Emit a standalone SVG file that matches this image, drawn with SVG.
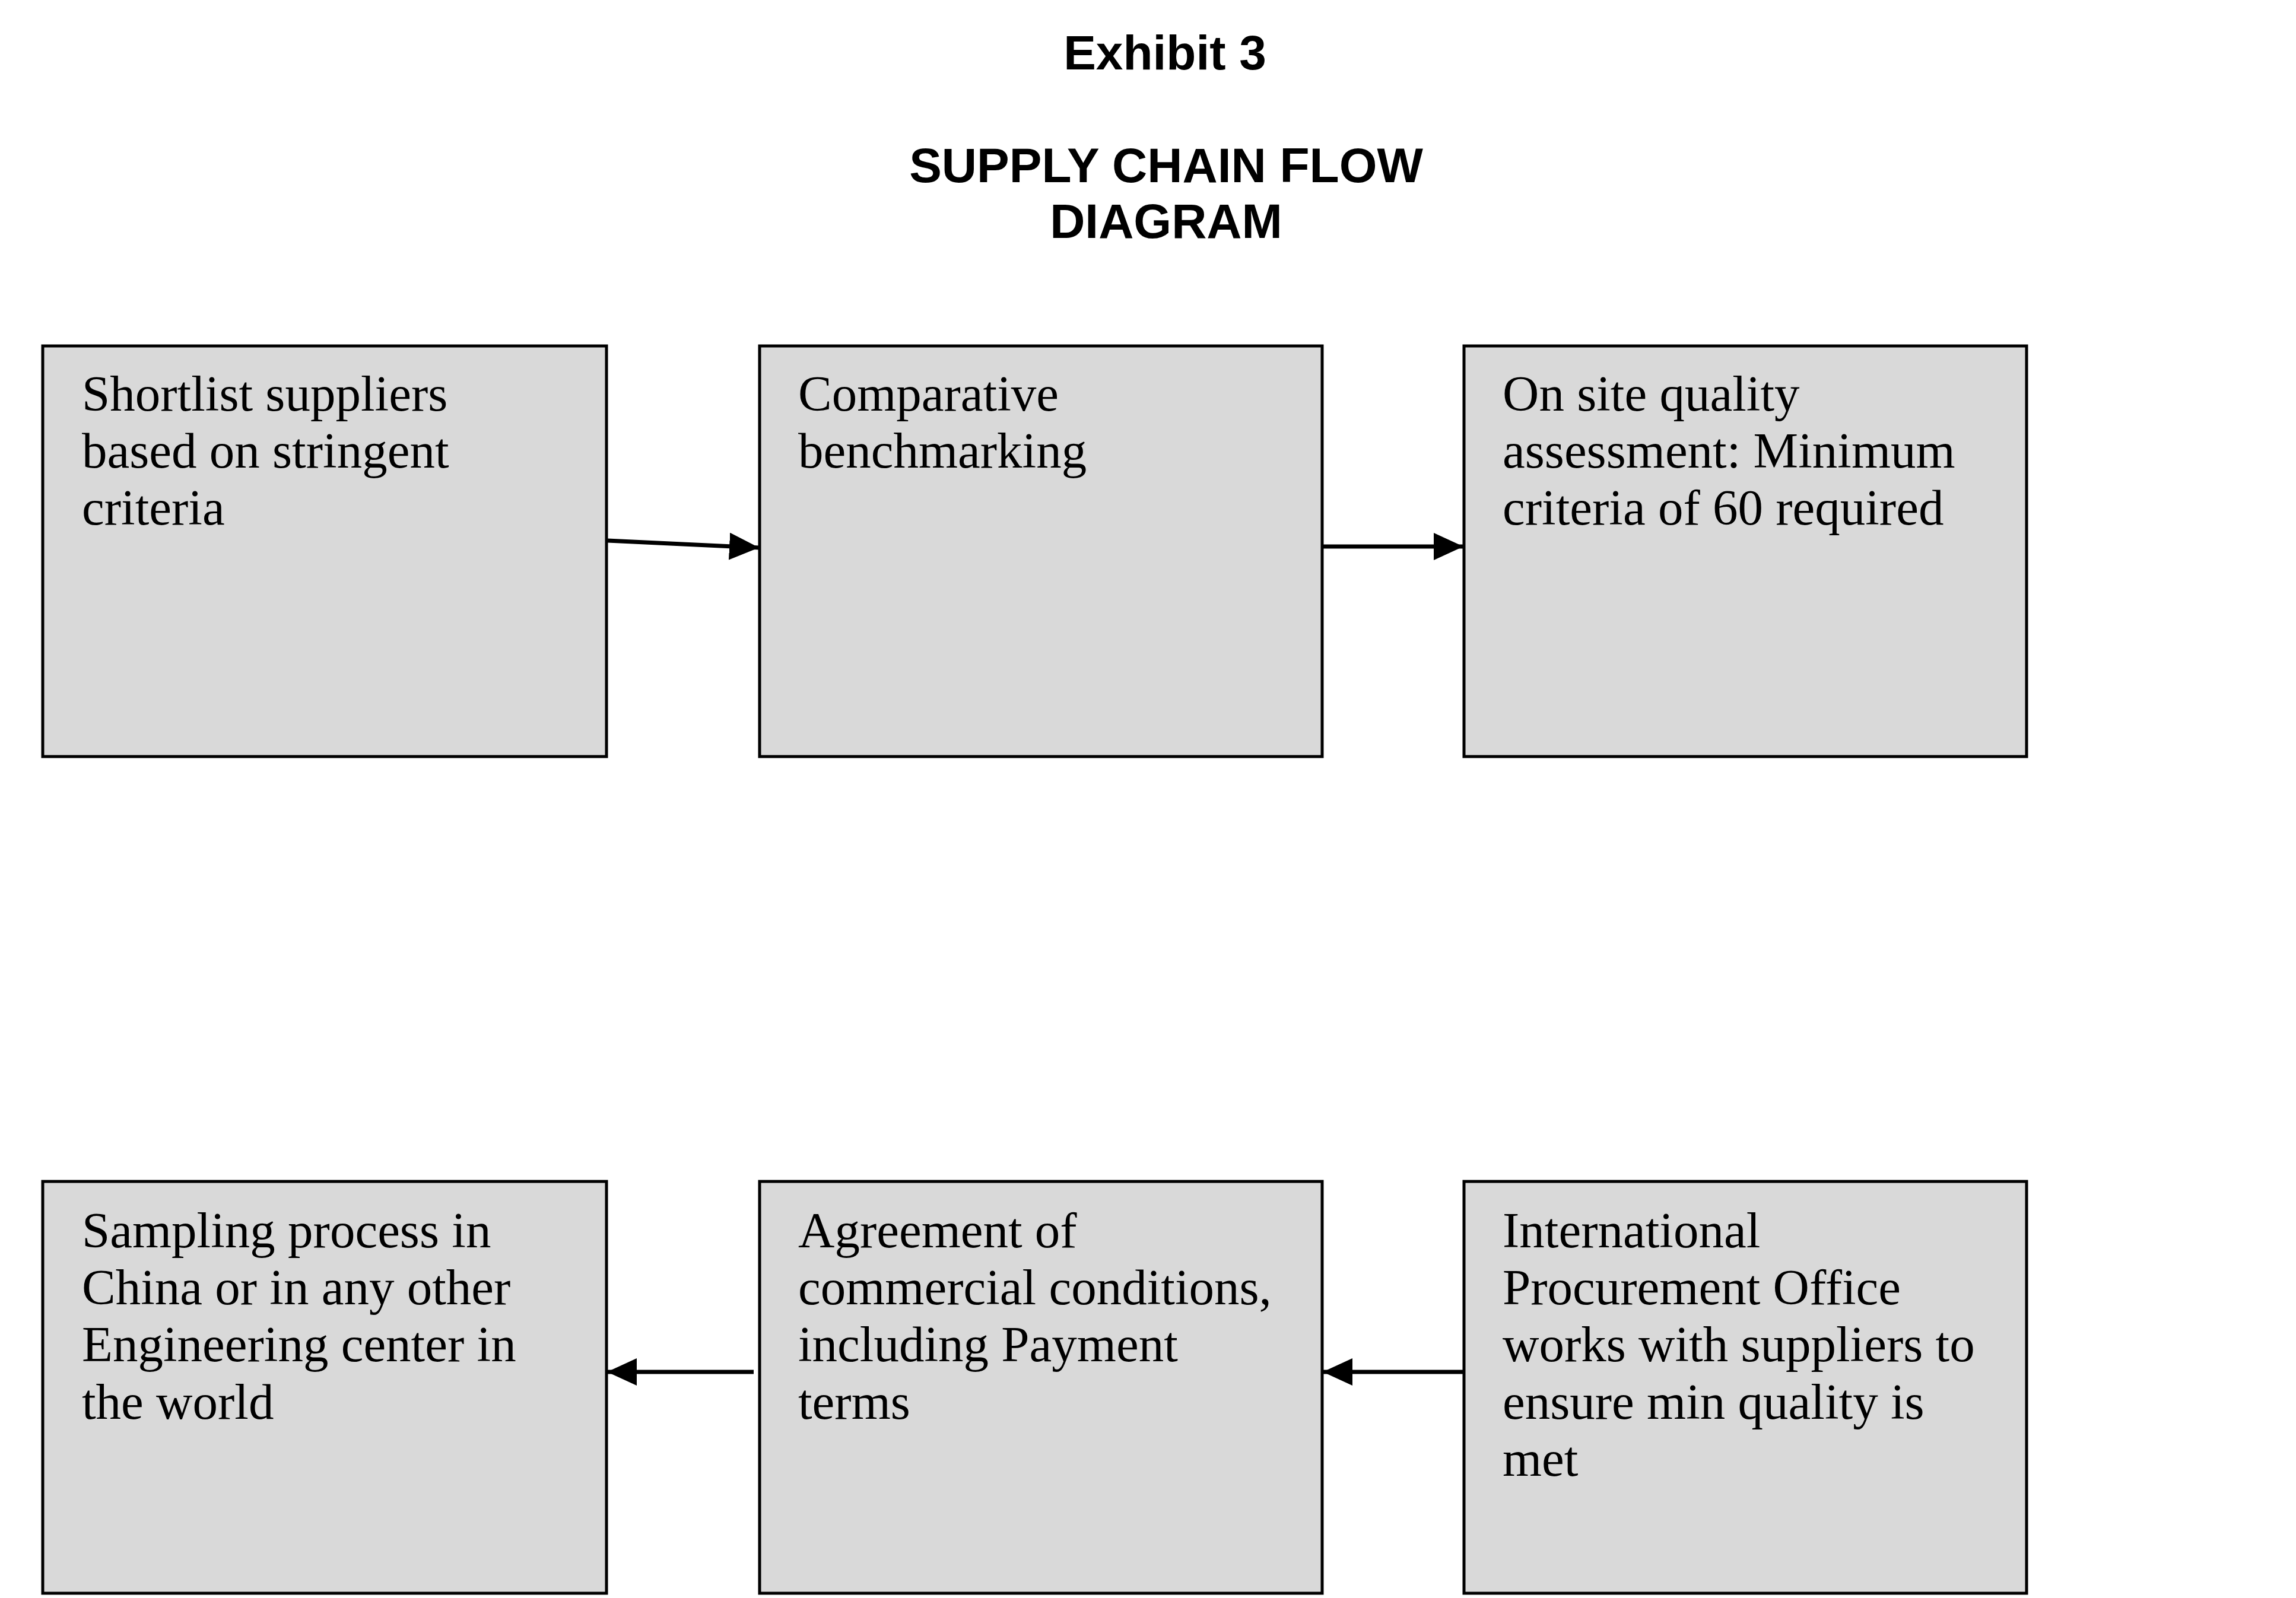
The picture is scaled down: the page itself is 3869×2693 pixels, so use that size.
<svg xmlns="http://www.w3.org/2000/svg" width="3869" height="2693" viewBox="0 0 3869 2693">
<defs>
<style>
.box{fill:#d9d9d9;stroke:#000;stroke-width:5}
.t{font-family:"Liberation Serif","Times New Roman",serif;font-size:85px;fill:#000}
.h{font-family:"Liberation Sans",Arial,sans-serif;font-size:82px;font-weight:bold;fill:#000;text-anchor:middle}
.c{stroke:#000;stroke-width:7;fill:none;marker-end:url(#ah)}
</style>
<marker id="ah" markerUnits="userSpaceOnUse" markerWidth="52" markerHeight="46" refX="50" refY="23" orient="auto"><path d="M0,0 L50,23 L0,46 Z" fill="#000"/></marker>
</defs>
<rect width="3869" height="2693" fill="#fff"/>
<g id="title">
<text class="h" x="1963" y="117">Exhibit 3</text>
<text class="h" x="1965" y="307">SUPPLY CHAIN FLOW</text>
<text class="h" x="1965" y="401">DIAGRAM</text>
</g>
<g id="n1"><rect class="box" x="72" y="583" width="950" height="692"/>
<text class="t" x="138" y="692">Shortlist suppliers</text><text class="t" x="138" y="788">based on stringent</text><text class="t" x="138" y="884">criteria</text></g>
<g id="n2"><rect class="box" x="1280" y="583" width="948" height="692"/>
<text class="t" x="1345" y="692">Comparative</text><text class="t" x="1345" y="788">benchmarking</text></g>
<g id="n3"><rect class="box" x="2467" y="583" width="948" height="692"/>
<text class="t" x="2532" y="692">On site quality</text><text class="t" x="2532" y="788">assessment: Minimum</text><text class="t" x="2532" y="884">criteria of 60 required</text></g>
<g id="n4"><rect class="box" x="72" y="1991" width="950" height="694"/>
<text class="t" x="138" y="2102">Sampling process in</text><text class="t" x="138" y="2198">China or in any other</text><text class="t" x="138" y="2294">Engineering center in</text><text class="t" x="138" y="2391">the world</text></g>
<g id="n5"><rect class="box" x="1280" y="1991" width="948" height="694"/>
<text class="t" x="1345" y="2102">Agreement of</text><text class="t" x="1345" y="2198">commercial conditions,</text><text class="t" x="1345" y="2294">including Payment</text><text class="t" x="1345" y="2391">terms</text></g>
<g id="n6"><rect class="box" x="2467" y="1991" width="948" height="694"/>
<text class="t" x="2532" y="2102">International</text><text class="t" x="2532" y="2198">Procurement Office</text><text class="t" x="2532" y="2294">works with suppliers to</text><text class="t" x="2532" y="2391">ensure min quality is</text><text class="t" x="2532" y="2487">met</text></g>
<g id="connectors">
<line class="c" x1="1024" y1="911" x2="1279" y2="923"/>
<line class="c" x1="2230" y1="921" x2="2466" y2="921"/>
<line class="c" x1="2465" y1="2312" x2="2229" y2="2312"/>
<line class="c" x1="1270" y1="2312" x2="1023" y2="2312"/>
</g>
</svg>
